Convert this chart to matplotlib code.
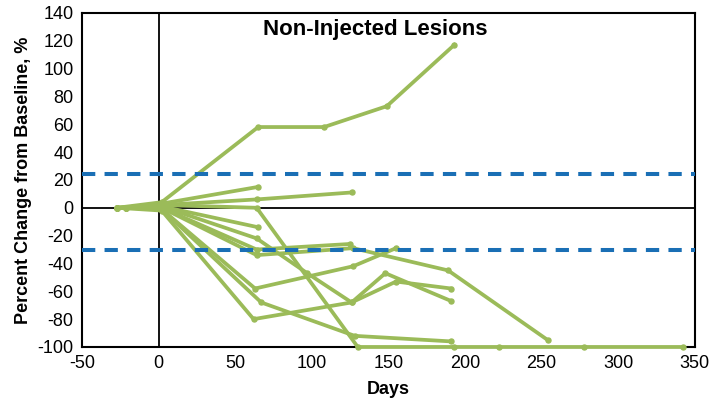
import matplotlib.pyplot as plt

plt.rcParams['font.family'] = ['Liberation Sans', 'DejaVu Sans']
plt.rcParams['axes.unicode_minus'] = False

# lesion tracks: days on study vs percent change from baseline
days_a = [-27, 2, 65, 108, 149, 193]
pct_a = [0, 4, 58, 58, 73, 117]
days_b = [-21, 2, 65]
pct_b = [0, 3, 15]
days_c = [-27, 2, 64, 126]
pct_c = [0, 2, 6, 11]
days_d = [-27, 2, 64, 130, 193, 222, 278, 342]
pct_d = [0, 2, 0, -100, -100, -100, -100, -100]
days_e = [-21, 2, 65]
pct_e = [0, 1, -14]
days_f = [-21, 2, 64, 97, 126, 155, 191]
pct_f = [0, 1, -22, -47, -68, -53, -58]
days_g = [-27, 2, 64, 125]
pct_g = [0, 0, -30, -26]
days_h = [-27, 2, 64, 127, 189, 254]
pct_h = [0, 0, -34, -29, -45, -95]
days_i = [-21, 2, 63, 127, 155]
pct_i = [0, -1, -58, -42, -29]
days_j = [-21, 2, 67, 128, 191]
pct_j = [0, -1, -68, -92, -96]
days_k = [-27, 2, 62, 126, 148, 191]
pct_k = [0, -2, -80, -68, -47, -67]

lesions = [(days_a, pct_a), (days_b, pct_b), (days_c, pct_c), (days_d, pct_d),
           (days_e, pct_e), (days_f, pct_f), (days_g, pct_g), (days_h, pct_h),
           (days_i, pct_i), (days_j, pct_j), (days_k, pct_k)]

pd_cut = 24    # progression threshold
pr_cut = -30   # response threshold

fig = plt.figure(figsize=(7.15, 4.03), dpi=100)
ax = fig.add_axes([0.1147, 0.139, 0.857, 0.829])

ax.axhline(0, color='black', lw=1.3, zorder=1)
ax.axvline(0, color='black', lw=1.3, zorder=1)

for d, p in lesions:
    ax.plot(d, p, color='#9BBB59', lw=2.7, marker='o', ms=3.6, zorder=4, clip_on=False)

for y in [pd_cut, pr_cut]:
    ax.axhline(y, color='#1A6FB5', lw=2.9, dashes=(3.3, 2.3), zorder=5)

ax.set_xlim(-50, 350)
ax.set_ylim(-100, 140)
ax.set_xticks(range(-50, 351, 50))
ax.set_yticks(range(-100, 141, 20))
ax.tick_params(length=0, labelsize=13, pad=6)
for s in ax.spines.values():
    s.set_linewidth(1.5)
    s.set_zorder(3)

ax.set_xlabel('Days', fontsize=13, fontweight='bold', labelpad=6)
ax.set_ylabel('Percent Change from Baseline, %', fontsize=13, fontweight='bold', labelpad=4)
ax.text(0.478, 0.949, 'Non-Injected Lesions', transform=ax.transAxes, ha='center', va='center',
        fontsize=16, fontweight='bold')

plt.savefig('out.png', dpi=100)
